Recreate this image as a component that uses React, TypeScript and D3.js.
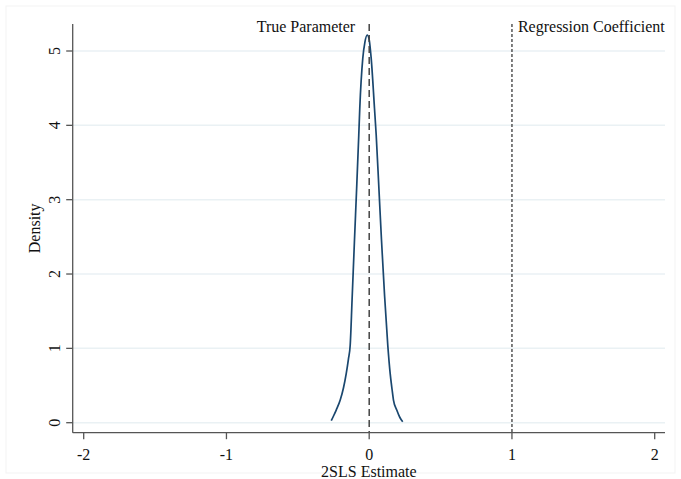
import React from "react";
import * as d3 from "d3";

const densityX = [-0.266, -0.25, -0.231, -0.203, -0.18, -0.161, -0.146, -0.133, -0.12, -0.103, -0.088, -0.073, -0.066, -0.045, -0.03, -0.014, 0.0, 0.014, 0.037, 0.049, 0.068, 0.086, 0.108, 0.13, 0.147, 0.16, 0.17, 0.193, 0.215, 0.235];
const densityY = [0.027, 0.09, 0.17, 0.305, 0.47, 0.66, 0.85, 1.045, 1.65, 2.46, 3.15, 3.87, 4.23, 4.9, 5.12, 5.215, 5.15, 4.9, 4.23, 3.87, 3.15, 2.46, 1.7, 1.045, 0.66, 0.45, 0.305, 0.17, 0.07, 0.013];

const xTicks = [-2, -1, 0, 1, 2];
const yTicks = [0, 1, 2, 3, 4, 5];
const trueParameter = 0;
const regressionCoefficient = 1;
const labels = { trueParam: "True Parameter", regCoef: "Regression Coefficient", xTitle: "2SLS Estimate", yTitle: "Density" };

export default function App() {
  const W = 681, H = 479;
  const x = d3.scaleLinear().domain([-2, 2]).range([83.7, 654.7]);
  const y = d3.scaleLinear().domain([0, 5]).range([422.7, 51]);
  const left = 72.7, right = 665, top = 24, bottom = 432.7;
  const pts = densityX.map((v, i) => [v, densityY[i]] as [number, number]);
  const line = d3.line<[number, number]>().x(d => x(d[0])).y(d => y(d[1])).curve(d3.curveMonotoneX);
  const font = "'Liberation Serif', 'Times New Roman', serif";
  const fs = 16;
  return (
    <svg width={W} height={H} style={{ position: "absolute", left: 0, top: 0, background: "#fff" }} fontFamily={font}>
      <rect x={6} y={6} width={669} height={467} fill="none" stroke="#f3f3f3" strokeWidth={1} />
      {yTicks.map(t => (
        <line key={"g" + t} x1={left} x2={right} y1={y(t)} y2={y(t)} stroke="#eaf1f4" strokeWidth={1.5} />
      ))}
      <path d={line(pts) || ""} fill="none" stroke="#1a476f" strokeWidth={1.7} />
      <line x1={x(trueParameter)} x2={x(trueParameter)} y1={top} y2={bottom} stroke="#444" strokeWidth={1.5} strokeDasharray="7,4" />
      <line x1={x(regressionCoefficient)} x2={x(regressionCoefficient)} y1={top} y2={bottom} stroke="#555" strokeWidth={1.5} strokeDasharray="3,2" />
      <text x={x(trueParameter) - 14} y={32} fontSize={fs} textAnchor="end" fill="#111">{labels.trueParam}</text>
      <text x={x(regressionCoefficient) + 6} y={32} fontSize={fs} textAnchor="start" fill="#111">{labels.regCoef}</text>
      <line x1={left} x2={left} y1={top} y2={bottom} stroke="#555" strokeWidth={1.3} />
      <line x1={left} x2={right} y1={bottom} y2={bottom} stroke="#555" strokeWidth={1.3} />
      {yTicks.map(t => (
        <g key={"y" + t}>
          <line x1={left - 6.5} x2={left} y1={y(t)} y2={y(t)} stroke="#555" strokeWidth={1.3} />
          <text transform={`translate(60,${y(t)}) rotate(-90)`} fontSize={fs} textAnchor="middle" fill="#111">{t}</text>
        </g>
      ))}
      {xTicks.map(t => (
        <g key={"x" + t}>
          <line x1={x(t)} x2={x(t)} y1={bottom} y2={bottom + 6.5} stroke="#555" strokeWidth={1.3} />
          <text x={x(t)} y={459.5} fontSize={fs} textAnchor="middle" fill="#111">{t}</text>
        </g>
      ))}
      <text x={(left + right) / 2} y={477} fontSize={fs} textAnchor="middle" fill="#111">{labels.xTitle}</text>
      <text transform={`translate(40,${(top + bottom) / 2}) rotate(-90)`} fontSize={fs} textAnchor="middle" fill="#111">{labels.yTitle}</text>
    </svg>
  );
}
